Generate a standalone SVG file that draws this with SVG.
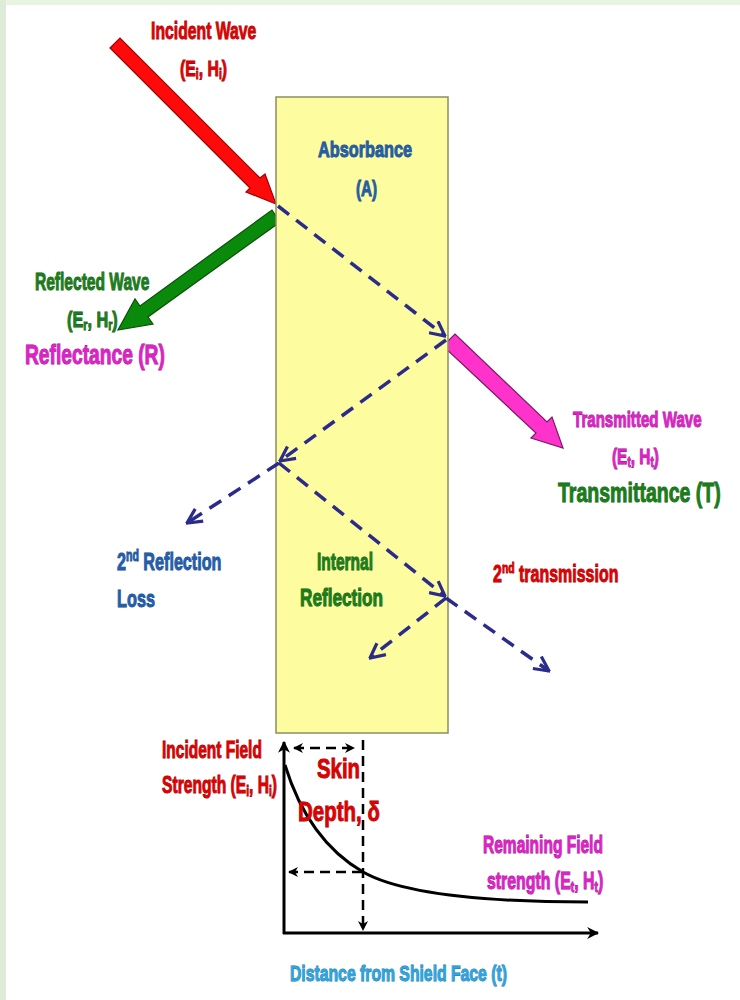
<svg xmlns="http://www.w3.org/2000/svg" width="740" height="1000" viewBox="0 0 740 1000">
  <style>
    .t { font-family: "Liberation Sans", Arial, sans-serif; font-weight: bold; paint-order: stroke; stroke-width: 0.9; }
    .red { fill: #e00000; stroke: #8a0000; }
    .grn { fill: #187f18; stroke: #0b4f0b; }
    .blu { fill: #1f5fae; stroke: #123d78; }
    .mag { fill: #e21fcc; stroke: #8a1078; }
    .lbl { fill: #2aa6e0; stroke: #1a6f9a; }
    .sub { font-size: 65%; }
    .ray { fill: none; stroke: #2b2b8c; stroke-width: 3.5; stroke-dasharray: 14 9; }
    .axis { fill: none; stroke: #000; stroke-width: 3; }
    .guide { fill: none; stroke: #000; stroke-width: 2.5; stroke-dasharray: 10 6; }
  </style>
  <defs>
    <marker id="vee" viewBox="0 0 12 12" refX="11" refY="6" markerWidth="5" markerHeight="5" orient="auto" markerUnits="strokeWidth">
      <path d="M1,1 L11,6 L1,11" fill="none" stroke="#2b2b8c" stroke-width="2.2"/>
    </marker>
    <marker id="blk" viewBox="0 0 10 10" refX="9" refY="5" markerWidth="4" markerHeight="4" orient="auto-start-reverse" markerUnits="strokeWidth">
      <path d="M0,0 L10,5 L0,10 L3,5 Z" fill="#000"/>
    </marker>
  </defs>

  <!-- page background and frame strips -->
  <rect x="0" y="0" width="740" height="1000" fill="#ffffff"/>
  <rect x="0" y="0" width="740" height="5" fill="#e8f3e2"/>
  <rect x="0" y="0" width="6" height="1000" fill="#dcecd6"/>

  <!-- wave arrows -->
  <g id="incident-wave">
    <polygon points="110,48 120,38 260,178 265,174 276,204 246,192 250,188" fill="#ff0a0a" stroke="#a00000" stroke-width="1.2"/>
  </g>
  <g id="reflected-wave">
    <polygon points="280,222 272,210 140,306 135,299 118,330 153,324 148,317" fill="#0a8a0a" stroke="#0a4f0a" stroke-width="1.2"/>
  </g>
  <g id="transmitted-wave">
    <polygon points="443,346 455,334 547,422 552,417 563,448 531,438 536,433" fill="#ff33cc" stroke="#7a1a66" stroke-width="1.2"/>
  </g>

  <!-- shield slab -->
  <g id="shield">
    <rect x="276" y="97" width="172" height="636" fill="#fdfd9f" stroke="#8c8c66" stroke-width="1.5"/>
  </g>

  <!-- ray paths inside and out of the shield -->
  <g id="rays">
    <line class="ray" x1="278" y1="206" x2="445" y2="336" marker-end="url(#vee)"/>
    <line class="ray" x1="446" y1="340" x2="280" y2="461" marker-end="url(#vee)"/>
    <line class="ray" x1="279" y1="463" x2="187" y2="523" marker-end="url(#vee)"/>
    <line class="ray" x1="279" y1="463" x2="445" y2="596" marker-end="url(#vee)"/>
    <line class="ray" x1="446" y1="598" x2="370" y2="658" marker-end="url(#vee)"/>
    <line class="ray" x1="446" y1="598" x2="549" y2="671" marker-end="url(#vee)"/>
  </g>

  <!-- field decay plot -->
  <g id="decay-plot">
    <line class="axis" x1="284" y1="934" x2="284" y2="742" marker-end="url(#blk)"/>
    <line class="axis" x1="283" y1="933" x2="598" y2="933" marker-end="url(#blk)"/>
    <path d="M285,765 Q308,840 363,872 C400,893 480,902 588,902" fill="none" stroke="#000" stroke-width="3"/>
    <line class="guide" x1="363" y1="740" x2="363" y2="930" marker-end="url(#blk)"/>
    <line class="guide" x1="294" y1="748" x2="354" y2="748" marker-start="url(#blk)" marker-end="url(#blk)"/>
    <line class="guide" x1="362" y1="872" x2="289" y2="872" marker-end="url(#blk)"/>
  </g>

  <!-- labels: condensed bold lettering via horizontal scale -->
  <g id="labels">
    <text class="t red" font-size="24" transform="translate(151,39) scale(0.657,1)">Incident Wave</text>
    <text class="t red" font-size="22" transform="translate(180,76) scale(0.72,1)">(E<tspan class="sub" dy="3">i</tspan><tspan dy="-3">, H</tspan><tspan class="sub" dy="3">i</tspan><tspan dy="-3">)</tspan></text>

    <text class="t blu" font-size="22" transform="translate(318,157) scale(0.74,1)">Absorbance</text>
    <text class="t blu" font-size="22" transform="translate(356,196) scale(0.69,1)">(A)</text>

    <text class="t grn" font-size="23" transform="translate(35,290) scale(0.676,1)">Reflected Wave</text>
    <text class="t grn" font-size="22" transform="translate(67,327) scale(0.74,1)">(E<tspan class="sub" dy="3">r</tspan><tspan dy="-3">, H</tspan><tspan class="sub" dy="3">r</tspan><tspan dy="-3">)</tspan></text>
    <text class="t mag" font-size="27" transform="translate(25,364) scale(0.712,1)">Reflectance (R)</text>

    <text class="t mag" font-size="22" transform="translate(573,427) scale(0.686,1)">Transmitted Wave</text>
    <text class="t mag" font-size="22" transform="translate(612,464) scale(0.7,1)">(E<tspan class="sub" dy="3">t</tspan><tspan dy="-3">, H</tspan><tspan class="sub" dy="3">t</tspan><tspan dy="-3">)</tspan></text>
    <text class="t grn" font-size="28" transform="translate(558,502) scale(0.698,1)">Transmittance (T)</text>

    <text class="t blu" font-size="24" transform="translate(117,570) scale(0.674,1)">2<tspan class="sub" dy="-9">nd</tspan><tspan dy="9"> Reflection</tspan></text>
    <text class="t blu" font-size="24" transform="translate(117,607) scale(0.678,1)">Loss</text>

    <text class="t grn" font-size="23" transform="translate(317,570) scale(0.674,1)">Internal</text>
    <text class="t grn" font-size="23" transform="translate(300,606) scale(0.746,1)">Reflection</text>

    <text class="t red" font-size="23" transform="translate(493,582) scale(0.695,1)">2<tspan class="sub" dy="-9">nd</tspan><tspan dy="9"> transmission</tspan></text>

    <text class="t red" font-size="23" transform="translate(162,758) scale(0.674,1)">Incident Field</text>
    <text class="t red" font-size="23" transform="translate(162,793) scale(0.68,1)">Strength (E<tspan class="sub" dy="3">i</tspan><tspan dy="-3">, H</tspan><tspan class="sub" dy="3">i</tspan><tspan dy="-3">)</tspan></text>

    <text class="t red" font-size="28" transform="translate(317,778) scale(0.727,1)">Skin</text>
    <text class="t red" font-size="28" transform="translate(298,821) scale(0.732,1)">Depth, δ</text>

    <text class="t mag" font-size="23" transform="translate(483,853) scale(0.675,1)">Remaining Field</text>
    <text class="t mag" font-size="23" transform="translate(487,889) scale(0.69,1)">strength (E<tspan class="sub" dy="3">t</tspan><tspan dy="-3">, H</tspan><tspan class="sub" dy="3">t</tspan><tspan dy="-3">)</tspan></text>

    <text class="t lbl" font-size="22" transform="translate(290,981) scale(0.716,1)">Distance from Shield Face (t)</text>
  </g>
</svg>
